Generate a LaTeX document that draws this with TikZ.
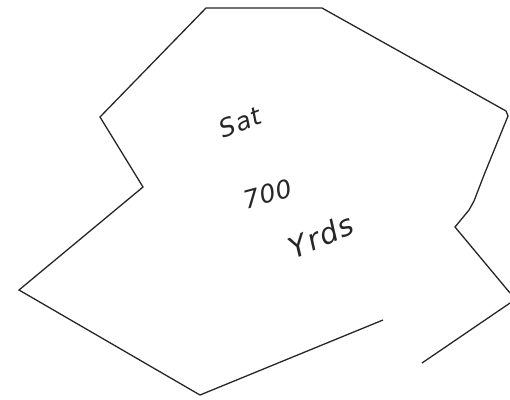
\documentclass[tikz,border=0pt]{standalone}
\usepackage{fontspec}
\setmainfont{DejaVu Sans}
\begin{document}
\begin{tikzpicture}[x=1pt,y=-1pt,
  outline/.style={draw=black!85,line width=1.3pt,line join=miter},
  hand/.style={font=\fontsize{25}{25}\selectfont\itshape\addfontfeatures{LetterSpace=4}, text=black!85, inner sep=0pt}]
\useasboundingbox (0,0) rectangle (510,399);
% corners
\coordinate (p1) at (383,320);
\coordinate (p2) at (200,395);
\coordinate (p3) at (19,290);
\coordinate (p4) at (143,187);
\coordinate (p5) at (100,117);
\coordinate (p6) at (206,8);
\coordinate (p7) at (322,8);
\coordinate (p8) at (506,111);
\coordinate (p9) at (508,116);
\coordinate (p10) at (484,175);
\coordinate (p11) at (474,201);
\coordinate (p12) at (469,210);
\coordinate (p13) at (455,227);
\coordinate (p14) at (510,293);
\coordinate (q1) at (510,303);
\coordinate (q2) at (422,363);
\draw[outline] (p1) -- (p2) -- (p3) -- (p4) -- (p5) -- (p6) -- (p7) -- (p8) -- (p9) -- (p10) -- (p11) -- (p12) -- (p13) -- (p14);
\draw[outline] (q1) -- (q2);
% labels
\node[hand, rotate=22] (sat) at (240,122) {Sat};
\node[hand, rotate=15] (num) at (268,194) {700};
\node[hand, rotate=24, font=\fontsize{29}{29}\selectfont\itshape\addfontfeatures{LetterSpace=4}] (yrds) at (321,236) {Yrds};
\end{tikzpicture}
\end{document}
